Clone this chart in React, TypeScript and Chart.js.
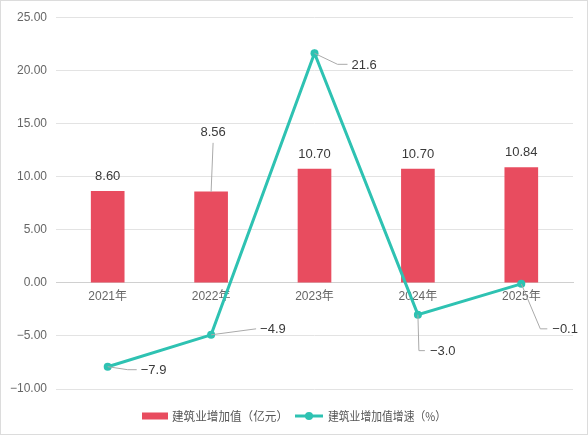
import React, { useEffect, useRef } from 'react';
import { Chart, registerables } from 'chart.js';

Chart.register(...registerables);

const categories = ['2021年', '2022年', '2023年', '2024年', '2025年'];
const addedValue = [8.6, 8.56, 10.7, 10.7, 10.84];
const growthRate = [-7.9, -4.9, 21.6, -3.0, -0.1];
const yMin = -10;
const yMax = 25;
const yStep = 5;
const seriesNames = ['建筑业增加值（亿元）', '建筑业增加值增速（%）'];

const BAR_COLOR = '#e84c5f';
const LINE_COLOR = '#2ec2b2';
const FONT = '"Liberation Sans", Arial, "Noto Sans CJK SC", sans-serif';
const CJK_FONT = '"Noto Sans CJK SC", sans-serif';

const fmtMinus = (v: number, d: number) => (v < 0 ? '\u2212' : '') + Math.abs(v).toFixed(d);

// label layout (relative offsets from the mark)
const barLabelOffsets = [[0, -15], [2, -59], [0, -15], [0, -15], [0, -15]];
const lineLabelLayout = [
  { path: [[0, 0], [20, 3], [29, 3]], text: [33, 3] },
  { path: [[0, 0], [45, -6]], text: [49, -6] },
  { path: [[0, 0], [23, 11], [33, 11]], text: [37, 11] },
  { path: [[0, 0], [1, 36], [7, 36]], text: [12, 36] },
  { path: [[0, 0], [19, 45], [26, 45]], text: [31, 45] },
];

const labelPlugin = {
  id: 'customLabels',
  afterDatasetsDraw(chart: any) {
    const ctx = chart.ctx;
    ctx.save();
    ctx.font = `13px ${FONT}`;
    ctx.fillStyle = '#3a3a3a';
    ctx.strokeStyle = '#aaa';
    ctx.lineWidth = 1;
    const barMeta = chart.getDatasetMeta(0);
    barMeta.data.forEach((el: any, i: number) => {
      const [dx, dy] = barLabelOffsets[i];
      const x = el.x + dx;
      const y = el.y + dy;
      if (dy < -20) {
        ctx.beginPath();
        ctx.moveTo(el.x, el.y);
        ctx.lineTo(x, y + 10);
        ctx.stroke();
      }
      ctx.textAlign = 'center';
      ctx.textBaseline = 'middle';
      ctx.fillText(addedValue[i].toFixed(2), x, y);
    });
    const lineMeta = chart.getDatasetMeta(1);
    lineMeta.data.forEach((el: any, i: number) => {
      const lay = lineLabelLayout[i];
      ctx.beginPath();
      lay.path.forEach((p, k) => {
        if (k === 0) ctx.moveTo(el.x + p[0], el.y + p[1]);
        else ctx.lineTo(el.x + p[0], el.y + p[1]);
      });
      ctx.stroke();
      ctx.textAlign = 'left';
      ctx.textBaseline = 'middle';
      ctx.fillText(fmtMinus(growthRate[i], 1), el.x + lay.text[0], el.y + lay.text[1] + 1);
    });
    ctx.restore();
  },
};

const legendPlugin = {
  id: 'customLegend',
  afterDraw(chart: any) {
    const ctx = chart.ctx;
    ctx.save();
    ctx.font = `12px ${CJK_FONT}`;
    const w1 = Math.min(ctx.measureText(seriesNames[0]).width, 116);
    const w2 = Math.min(ctx.measureText(seriesNames[1]).width, 118);
    const total = 26 + 4 + w1 + 7 + 28 + 5 + w2;
    let x = chart.width / 2 - total / 2;
    const cy = 415;
    ctx.fillStyle = BAR_COLOR;
    ctx.fillRect(x, cy - 3.5, 26, 7);
    x += 30;
    ctx.fillStyle = '#555';
    ctx.textAlign = 'left';
    ctx.textBaseline = 'middle';
    ctx.fillText(seriesNames[0], x, cy + 0.5, w1);
    x += w1 + 7;
    ctx.strokeStyle = LINE_COLOR;
    ctx.lineWidth = 3;
    ctx.beginPath();
    ctx.moveTo(x, cy);
    ctx.lineTo(x + 28, cy);
    ctx.stroke();
    ctx.fillStyle = LINE_COLOR;
    ctx.beginPath();
    ctx.arc(x + 14, cy, 4, 0, Math.PI * 2);
    ctx.fill();
    x += 33;
    ctx.fillStyle = '#555';
    ctx.fillText(seriesNames[1], x, cy + 0.5, w2);
    ctx.restore();
  },
};

export default function App() {
  const ref = useRef<HTMLCanvasElement | null>(null);
  useEffect(() => {
    document.body.style.margin = '0';
    if (!ref.current) return;
    Chart.defaults.font.family = FONT;
    const chart = new Chart(ref.current, {
      type: 'bar',
      data: {
        labels: categories,
        datasets: [
          {
            type: 'bar',
            label: seriesNames[0],
            data: addedValue,
            backgroundColor: BAR_COLOR,
            barThickness: 33,
            order: 1,
          },
          {
            type: 'line',
            label: seriesNames[1],
            data: growthRate,
            borderColor: LINE_COLOR,
            backgroundColor: LINE_COLOR,
            borderWidth: 3,
            pointRadius: 4,
            pointBackgroundColor: LINE_COLOR,
            pointBorderWidth: 0,
            tension: 0,
            order: 0,
          } as any,
        ],
      },
      options: {
        animation: false,
        responsive: true,
        maintainAspectRatio: false,
        layout: { padding: { left: 0, right: 14, top: 14, bottom: 45 } },
        plugins: {
          legend: { display: false },
          tooltip: { enabled: false },
        },
        scales: {
          x: {
            position: { y: 0 } as any,
            grid: { display: false, drawTicks: false },
            border: { display: true, color: '#d0d0d0' },
            ticks: { color: '#666', font: { size: 12 }, padding: 7 },
          },
          y: {
            min: yMin,
            max: yMax,
            ticks: {
              stepSize: yStep,
              color: '#666',
              font: { size: 12 },
              padding: 9,
              callback: (v: any) => fmtMinus(Number(v), 2),
            },
            grid: { color: '#e3e3e3', drawTicks: false },
            border: { display: false },
            afterFit: (scale: any) => {
              scale.width = 55;
            },
          },
        },
      },
      plugins: [labelPlugin, legendPlugin],
    });
    return () => chart.destroy();
  }, []);
  return (
    <div style={{ width: 586, height: 433, border: '1px solid #dcdcdc', position: 'relative' }}>
      <canvas ref={ref} />
    </div>
  );
}
